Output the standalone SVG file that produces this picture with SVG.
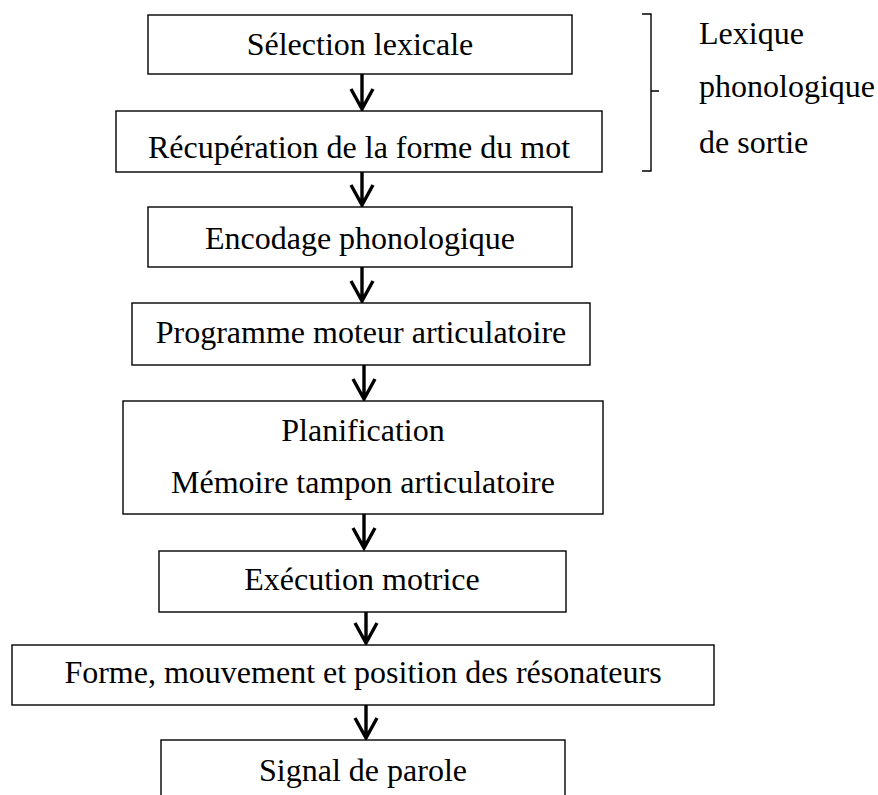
<svg xmlns="http://www.w3.org/2000/svg" width="878" height="795" viewBox="0 0 878 795">
<style>
.box{fill:#fff;stroke:#000;stroke-width:1.4}
.t{font-family:"Liberation Serif","Times New Roman",serif;font-size:32px;fill:#000}
.c{text-anchor:middle}
.arr{fill:none;stroke:#000;stroke-width:3.4}
.br{fill:none;stroke:#000;stroke-width:1.4}
</style>
<rect width="878" height="795" fill="#fff"/>
<g id="connectors">
<path class="arr" d="M362 74V109M351 89L362 109L373 89"/>
<path class="arr" d="M362 172V205M351 185L362 205L373 185"/>
<path class="arr" d="M362 267V301M351 281L362 301L373 281"/>
<path class="arr" d="M364 365V399M353 379L364 399L375 379"/>
<path class="arr" d="M364 514V548M353 528L364 548L375 528"/>
<path class="arr" d="M366 612V643M355 623L366 643L377 623"/>
<path class="arr" d="M366 705V738M355 718L366 738L377 718"/>
</g>
<g id="n1"><rect class="box" x="148" y="15" width="424" height="59"/><text class="t c" x="360" y="55">Sélection lexicale</text></g>
<g id="n2"><rect class="box" x="116" y="111" width="486" height="61"/><text class="t c" x="359" y="158">Récupération de la forme du mot</text></g>
<g id="n3"><rect class="box" x="148" y="207" width="424" height="60"/><text class="t c" x="360" y="249">Encodage phonologique</text></g>
<g id="n4"><rect class="box" x="132" y="303" width="458" height="62"/><text class="t c" x="361" y="343">Programme moteur articulatoire</text></g>
<g id="n5"><rect class="box" x="123" y="401" width="480" height="113"/><text class="t c" x="363" y="441">Planification</text><text class="t c" x="363" y="493">Mémoire tampon articulatoire</text></g>
<g id="n6"><rect class="box" x="159" y="551" width="407" height="61"/><text class="t c" x="362" y="590">Exécution motrice</text></g>
<g id="n7"><rect class="box" x="12" y="645" width="702" height="60"/><text class="t c" x="363" y="683">Forme, mouvement et position des résonateurs</text></g>
<g id="n8"><rect class="box" x="161" y="740" width="404" height="70"/><text class="t c" x="363" y="781">Signal de parole</text></g>
<g id="bracket">
<path class="br" d="M642 14H651V171H642M651 91H659"/>
<text class="t" x="699" y="44">Lexique</text>
<text class="t" x="699" y="97">phonologique</text>
<text class="t" x="699" y="153">de sortie</text>
</g>
</svg>
